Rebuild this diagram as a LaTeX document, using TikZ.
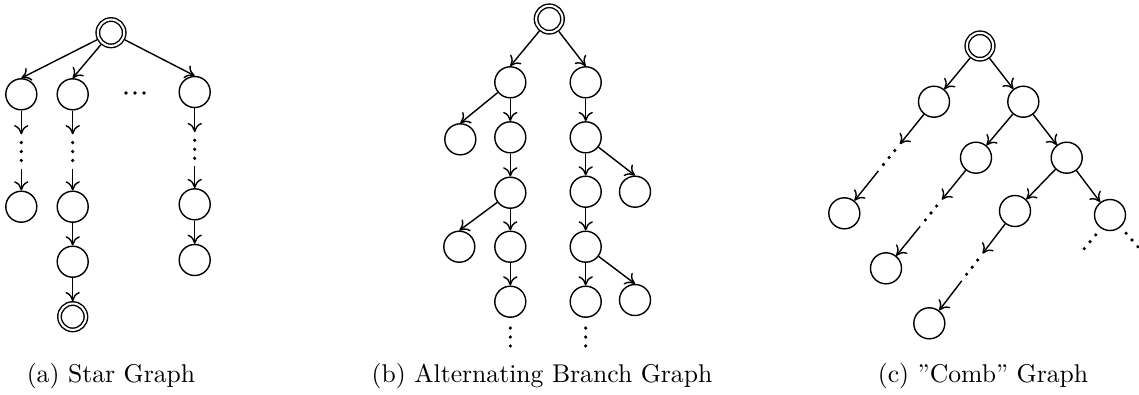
\documentclass[tikz,border=0pt]{standalone}
\usetikzlibrary{calc,arrows.meta}
\begin{document}
\begin{tikzpicture}[x=0.39pt, y=-0.39pt,
  vertex/.style={shape=circle, draw=black, line width=0.55pt, inner sep=0pt, minimum size=12.1pt},
  dvertex/.style={vertex, minimum size=10.3pt, double, double distance=0.8pt, outer sep=0.9pt},
  dotrow/.style={shape=circle, inner sep=0pt, minimum size=13pt,
    path picture={\foreach \k in {-1,0,1} \fill[shift={(path picture bounding box.center)}] (#1:\k*3.5pt) circle (0.7pt);}},
  link/.style={-{To[length=3.6pt,width=5.6pt]}, line width=0.55pt, draw=black}]
\useasboundingbox (0,0) rectangle (1139,394);
% (a) star graph
\node[dvertex] (a0) at (111, 32.7) {};
\node[vertex] (a1) at (21.3, 94.3) {};
\node[vertex] (a2) at (72.7, 94.3) {};
\node[vertex] (a3) at (194.7, 92) {};
\node[dotrow=0] (ad) at (135, 93) {};
\node[dotrow=90] (a4) at (21.3, 151.5) {};
\node[dotrow=90] (a5) at (72.7, 151.5) {};
\node[dotrow=90] (a6) at (194.7, 149.3) {};
\node[vertex] (a7) at (21.3, 206.7) {};
\node[vertex] (a8) at (72.7, 206.7) {};
\node[vertex] (a9) at (194.7, 204.3) {};
\node[vertex] (a10) at (72.7, 261.7) {};
\node[vertex] (a11) at (194.7, 260) {};
\node[dvertex] (a12) at (72.7, 316.7) {};
\path [link] (a0) edge (a1.north);
\path [link] (a0) edge (a2.north);
\path [link] (a0) edge (a3.north);
\path [link] (a1) edge (a4);
\path [link] (a4) edge (a7);
\path [link] (a2) edge (a5);
\path [link] (a5) edge (a8);
\path [link] (a8) edge (a10);
\path [link] (a10) edge (a12);
\path [link] (a3) edge (a6);
\path [link] (a6) edge (a9);
\path [link] (a9) edge (a11);
% (b) alternating branch graph
\node[dvertex] (b0) at (549.3, 19) {};
\node[vertex] (b1) at (510.3, 82.3) {};
\node[vertex] (b2) at (585.7, 82.3) {};
\node[vertex] (b3) at (460.3, 139.3) {};
\node[vertex] (b4) at (510.3, 137.3) {};
\node[vertex] (b5) at (510.3, 192.7) {};
\node[vertex] (b6) at (459.3, 246.7) {};
\node[vertex] (b7) at (510.3, 246.7) {};
\node[vertex] (b8) at (510.3, 301.7) {};
\node[dotrow=90] (b9) at (510.3, 337) {};
\node[vertex] (b10) at (585.7, 137.3) {};
\node[vertex] (b11) at (585.7, 191.7) {};
\node[vertex] (b12) at (635, 191.7) {};
\node[vertex] (b13) at (585.7, 246.7) {};
\node[vertex] (b14) at (585.7, 301.7) {};
\node[vertex] (b15) at (635, 300) {};
\node[dotrow=90] (b16) at (585.7, 337) {};
\path [link] (b0) edge (b1.north);
\path [link] (b0) edge (b2.north);
\path [link] (b1) edge (b3.north);
\path [link] (b1) edge (b4);
\path [link] (b4) edge (b5);
\path [link] (b5) edge (b6.north);
\path [link] (b5) edge (b7);
\path [link] (b7) edge (b8);
\path [link] (b2) edge (b10);
\path [link] (b10) edge (b11);
\path [link] (b10) edge (b12.north);
\path [link] (b11) edge (b13);
\path [link] (b13) edge (b14);
\path [link] (b13) edge (b15.north);
% (c) comb graph
\node[dvertex] (c0) at (980, 46) {};
\node[vertex] (c1) at (934, 101.7) {};
\node[vertex] (c2) at (1023.3, 101.7) {};
\node[vertex] (c3) at (976, 157.7) {};
\node[vertex] (c4) at (1066.7, 157.7) {};
\node[vertex] (c5) at (844.3, 213.3) {};
\node[vertex] (c6) at (886, 268.3) {};
\node[vertex] (c7) at (1015, 211) {};
\node[vertex] (c8) at (1110, 215) {};
\node[vertex] (c9) at (929.3, 323.3) {};
\node[dotrow=51] (c10) at ($(c1)!.5!(c5)$) {};
\node[dotrow=51] (c11) at ($(c3)!.5!(c6)$) {};
\node[dotrow=52] (c12) at ($(c7)!.5!(c9)$) {};
\node[dotrow=50] (c13) at (1090, 241.7) {};
\node[dotrow=-49] (c14) at (1132, 240) {};
\path [link] (c0) edge (c1);
\path [link] (c0) edge (c2);
\path [link] (c1) edge (c10);
\path [link] (c10) edge (c5);
\path [link] (c2) edge (c3);
\path [link] (c2) edge (c4);
\path [link] (c3) edge (c11);
\path [link] (c11) edge (c6);
\path [link] (c4) edge (c7);
\path [link] (c4) edge (c8);
\path [link] (c7) edge (c12);
\path [link] (c12) edge (c9);
% captions
\node[anchor=base] (capa) at (111, 382) {(a) Star Graph};
\node[anchor=base] (capb) at (542, 382) {(b) Alternating Branch Graph};
\node[anchor=base] (capc) at (983, 382) {(c) ''Comb'' Graph};
\end{tikzpicture}
\end{document}
